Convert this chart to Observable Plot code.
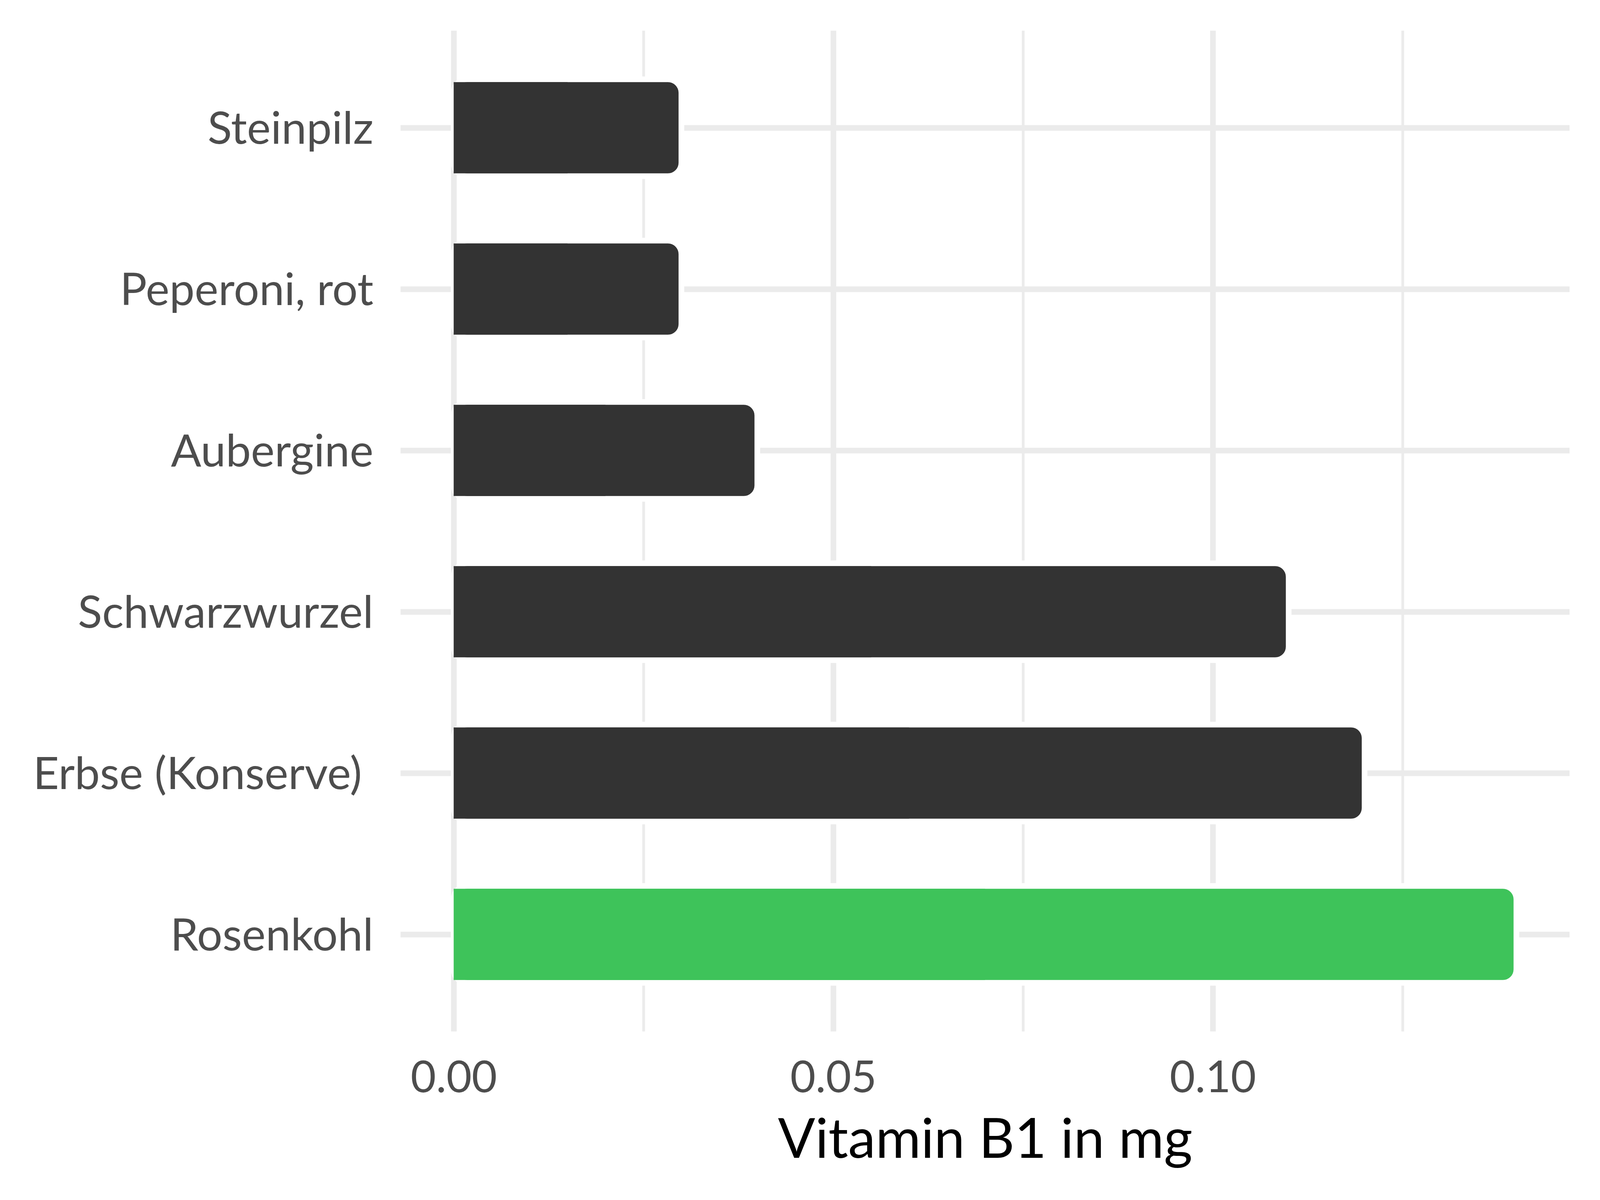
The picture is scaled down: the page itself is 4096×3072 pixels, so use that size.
<!DOCTYPE html>
<html>
<head>
<meta charset="utf-8">
<script src="https://cdn.jsdelivr.net/npm/d3@7"></script>
<script src="https://cdn.jsdelivr.net/npm/@observablehq/plot@0.6"></script>
<style>
  html, body { margin: 0; padding: 0; background: #ffffff; }
  #chart svg text { white-space: pre; }
</style>
</head>
<body>
<div id="chart"></div>
<script>
// ---- data ----
const foods = ["Steinpilz", "Peperoni, rot", "Aubergine", "Schwarzwurzel", "Erbse (Konserve) ", "Rosenkohl"];
const values = [0.03, 0.03, 0.04, 0.11, 0.12, 0.14];
const highlight = [false, false, false, false, false, true];
const majorTicks = [0, 0.05, 0.10];
const minorTicks = [0.025, 0.075, 0.125];
const xTitle = "Vitamin B1 in mg";

const rows = foods.map((f, i) => ({name: f, value: values[i], hl: highlight[i]}));
const barFill = d => d.hl ? "#3EC35A" : "#333333";

const W = 4096, H = 3072;
const mL = 1025.4, mR = W - 4018, mT = 78.5, mB = H - 2640.6;
const grid = "#EBEBEB";
const stroke = 14.5;

const chart = Plot.plot({
  width: W,
  height: H,
  marginLeft: mL,
  marginRight: mR,
  marginTop: mT,
  marginBottom: mB,
  style: {fontFamily: "Lato", background: "#ffffff"},
  x: {domain: [-0.007, 0.147], axis: null},
  y: {type: "band", domain: foods, paddingInner: 0.4, paddingOuter: 0.3, axis: null},
  marks: [
    Plot.ruleX(minorTicks, {stroke: grid, strokeWidth: 7}),
    Plot.ruleX(majorTicks, {stroke: grid, strokeWidth: stroke}),
    Plot.ruleY(foods, {y: d => d, stroke: grid, strokeWidth: stroke}),
    Plot.barX(rows, {x1: d => 0, x2: "value", y: "name", fill: barFill, stroke: "#ffffff", strokeWidth: stroke, rx: 34.6, ry: 34.6}),
    Plot.barX(rows, {x1: d => 0, x2: d => d.value / 2, y: "name", fill: barFill, insetTop: stroke / 2, insetBottom: stroke / 2}),
    Plot.axisY({tickSize: 0, tickPadding: 70, fontSize: 115, fill: "#4D4D4D", label: null, dy: 4}),
    Plot.axisX(majorTicks, {tickSize: 0, tickPadding: 75, fontSize: 112, fill: "#4D4D4D", label: null, tickFormat: d3.format(".2f")}),
    Plot.text([xTitle], {frameAnchor: "bottom", lineAnchor: "bottom", dy: 323, fontSize: 141, fill: "#000000"})
  ]
});
document.getElementById("chart").appendChild(chart);
</script>
</body>
</html>
